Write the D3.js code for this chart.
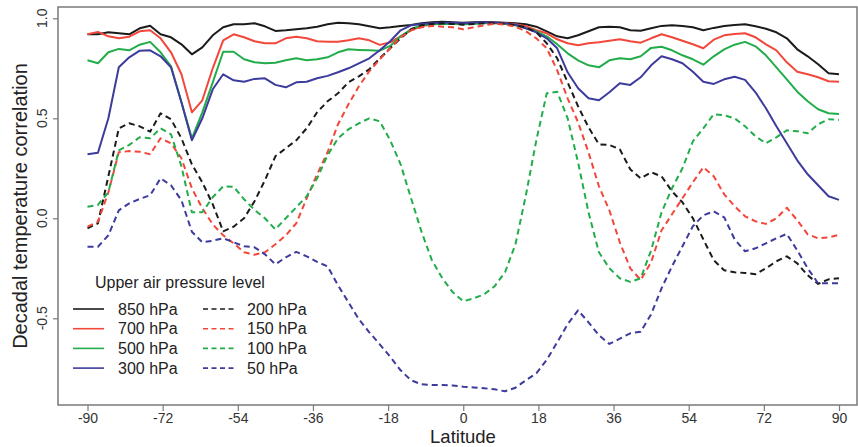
<!DOCTYPE html>
<html>
<head>
<meta charset="utf-8">
<script src="https://cdn.jsdelivr.net/npm/d3@7"></script>
<style>
  body { margin: 0; background: #fff; }
  svg { display: block; font-family: "Liberation Sans", Arial, sans-serif; }
</style>
</head>
<body>
<div id="chart"></div>
<script>
// latitudes (every 2.5 degrees)
var lat = [-90,-87.5,-85,-82.5,-80,-77.5,-75,-72.5,-70,-67.5,
  -65,-62.5,-60,-57.5,-55,-52.5,-50,-47.5,-45,-42.5,
  -40,-37.5,-35,-32.5,-30,-27.5,-25,-22.5,-20,-17.5,
  -15,-12.5,-10,-7.5,-5,-2.5,0,2.5,5,7.5,
  10,12.5,15,17.5,20,22.5,25,27.5,30,32.5,
  35,37.5,40,42.5,45,47.5,50,52.5,55,57.5,
  60,62.5,65,67.5,70,72.5,75,77.5,80,82.5,
  85,87.5,90];

var hpa850 = [0.92,0.92,0.93,0.925,0.92,0.95,0.963,0.92,0.905,0.87,
  0.82,0.855,0.915,0.955,0.97,0.97,0.975,0.96,0.937,0.94,
  0.945,0.95,0.958,0.97,0.978,0.975,0.97,0.96,0.95,0.955,
  0.962,0.967,0.975,0.98,0.983,0.98,0.978,0.98,0.982,0.98,
  0.978,0.975,0.97,0.958,0.935,0.91,0.9,0.915,0.935,0.955,
  0.958,0.955,0.94,0.938,0.95,0.962,0.965,0.962,0.955,0.94,
  0.952,0.962,0.967,0.97,0.96,0.948,0.93,0.9,0.845,0.81,
  0.77,0.725,0.72];

var hpa700 = [0.92,0.932,0.91,0.9,0.908,0.935,0.94,0.9,0.83,0.72,
  0.53,0.59,0.75,0.89,0.92,0.905,0.885,0.875,0.875,0.9,
  0.908,0.9,0.885,0.883,0.883,0.89,0.9,0.89,0.867,0.88,
  0.91,0.94,0.96,0.97,0.975,0.975,0.972,0.975,0.978,0.978,
  0.975,0.97,0.96,0.94,0.925,0.895,0.875,0.865,0.875,0.88,
  0.888,0.895,0.885,0.878,0.9,0.92,0.905,0.888,0.87,0.85,
  0.893,0.915,0.922,0.925,0.905,0.87,0.84,0.78,0.733,0.72,
  0.705,0.685,0.683];

var hpa500 = [0.79,0.775,0.83,0.847,0.84,0.868,0.882,0.83,0.76,0.58,
  0.4,0.53,0.68,0.833,0.833,0.795,0.78,0.775,0.778,0.79,
  0.8,0.79,0.795,0.805,0.83,0.845,0.842,0.84,0.838,0.862,
  0.91,0.945,0.965,0.97,0.972,0.972,0.97,0.972,0.975,0.975,
  0.972,0.965,0.95,0.935,0.91,0.87,0.825,0.79,0.765,0.755,
  0.79,0.8,0.795,0.81,0.852,0.858,0.84,0.815,0.795,0.768,
  0.81,0.845,0.868,0.882,0.86,0.815,0.755,0.695,0.633,0.585,
  0.545,0.525,0.522];

var hpa300 = [0.32,0.328,0.5,0.755,0.805,0.838,0.84,0.81,0.755,0.58,
  0.39,0.5,0.645,0.72,0.69,0.683,0.697,0.7,0.667,0.655,
  0.68,0.683,0.7,0.712,0.73,0.75,0.775,0.8,0.84,0.885,
  0.94,0.965,0.972,0.975,0.978,0.978,0.975,0.978,0.98,0.978,
  0.975,0.968,0.95,0.93,0.9,0.85,0.73,0.65,0.6,0.59,
  0.63,0.675,0.667,0.705,0.765,0.81,0.795,0.775,0.733,0.683,
  0.672,0.695,0.708,0.692,0.63,0.55,0.46,0.375,0.29,0.22,
  0.165,0.11,0.092];

var hpa200 = [-0.05,-0.025,0.21,0.45,0.475,0.46,0.433,0.525,0.495,0.4,
  0.27,0.18,0.07,-0.065,-0.042,0.0,0.085,0.19,0.31,0.35,
  0.39,0.45,0.53,0.585,0.625,0.68,0.71,0.745,0.8,0.85,
  0.9,0.945,0.965,0.972,0.975,0.972,0.968,0.972,0.975,0.975,
  0.972,0.965,0.955,0.93,0.875,0.8,0.68,0.56,0.455,0.37,
  0.367,0.345,0.245,0.2,0.23,0.21,0.135,0.08,0.0,-0.105,
  -0.21,-0.26,-0.27,-0.273,-0.28,-0.25,-0.215,-0.19,-0.225,-0.285,
  -0.328,-0.305,-0.3];

var hpa150 = [-0.042,-0.017,0.13,0.33,0.336,0.333,0.32,0.4,0.375,0.3,
  0.15,0.05,-0.03,-0.085,-0.125,-0.17,-0.182,-0.17,-0.13,-0.085,
  -0.025,0.1,0.22,0.33,0.47,0.57,0.66,0.735,0.795,0.85,
  0.905,0.94,0.955,0.962,0.958,0.955,0.945,0.955,0.965,0.972,
  0.968,0.958,0.935,0.9,0.85,0.74,0.6,0.48,0.33,0.16,
  0.04,-0.12,-0.25,-0.308,-0.22,-0.06,0.02,0.1,0.18,0.255,
  0.21,0.12,0.06,0.01,-0.015,-0.028,0.0,0.053,-0.01,-0.08,
  -0.1,-0.095,-0.083];

var hpa100 = [0.058,0.067,0.13,0.34,0.367,0.405,0.4,0.45,0.42,0.26,
  0.03,0.03,0.105,0.16,0.158,0.095,0.042,0.0,-0.055,0.0,
  0.055,0.11,0.2,0.315,0.4,0.445,0.475,0.5,0.485,0.39,
  0.27,0.1,-0.067,-0.21,-0.3,-0.37,-0.415,-0.4,-0.38,-0.34,
  -0.27,-0.13,0.115,0.39,0.625,0.633,0.5,0.28,0.03,-0.17,
  -0.25,-0.3,-0.318,-0.3,-0.16,0.03,0.15,0.25,0.385,0.45,
  0.52,0.515,0.5,0.46,0.41,0.375,0.405,0.44,0.435,0.425,
  0.47,0.495,0.492];

var hpa50 = [-0.142,-0.142,-0.085,0.04,0.075,0.097,0.115,0.2,0.165,0.09,
  -0.067,-0.12,-0.112,-0.1,-0.12,-0.14,-0.145,-0.18,-0.23,-0.195,
  -0.168,-0.19,-0.218,-0.24,-0.335,-0.42,-0.505,-0.57,-0.63,-0.692,
  -0.76,-0.81,-0.83,-0.833,-0.833,-0.836,-0.842,-0.846,-0.85,-0.855,
  -0.865,-0.847,-0.81,-0.775,-0.708,-0.62,-0.53,-0.46,-0.52,-0.585,
  -0.628,-0.602,-0.575,-0.567,-0.48,-0.35,-0.24,-0.14,-0.04,0.015,
  0.035,0.005,-0.105,-0.165,-0.15,-0.125,-0.1,-0.078,-0.16,-0.25,
  -0.325,-0.325,-0.325];

var xTicks = [-90,-72,-54,-36,-18,0,18,36,54,72,90];
var xTickLabels = ["-90","-72","-54","-36","-18","0","18","36","54","72","90"];
var yTicks = [-0.5,0,0.5,1];
var yTickLabels = ["-0.5","0.0","0.5","1.0"];

var seriesNames = ["850 hPa","700 hPa","500 hPa","300 hPa","200 hPa","150 hPa","100 hPa","50 hPa"];
var seriesValues = [hpa850,hpa700,hpa500,hpa300,hpa200,hpa150,hpa100,hpa50];
var colors = ["#1b1b1b","#f2473a","#22ad4a","#3d3b9c","#1b1b1b","#f2473a","#22ad4a","#3d3b9c"];
var dashed = [false,false,false,false,true,true,true,true];

var w = 858, h = 447;
var box = {left: 58, top: 7, right: 857, bottom: 405};

var svg = d3.select("#chart").append("svg")
    .attr("width", w)
    .attr("height", h);

var x = d3.scaleLinear().domain([-90, 90]).range([87.5, 839]);
var y = d3.scaleLinear().domain([-0.5, 1]).range([318.3, 18.3]);

// one line per pressure level
var line = d3.line()
    .x(function(d, i) { return x(lat[i]); })
    .y(function(d) { return y(d); });

seriesValues.forEach(function(vals, k) {
    svg.append("path")
        .datum(vals)
        .attr("d", line)
        .attr("fill", "none")
        .attr("stroke", colors[k])
        .attr("stroke-width", 2)
        .attr("stroke-linejoin", "round")
        .attr("stroke-dasharray", dashed[k] ? "6,4" : null);
});

// plot box
svg.append("rect")
    .attr("x", box.left)
    .attr("y", box.top)
    .attr("width", box.right - box.left)
    .attr("height", box.bottom - box.top)
    .attr("fill", "none")
    .attr("stroke", "#7a7a7a")
    .attr("stroke-width", 1.5);

// x axis
var xAxis = d3.axisBottom(x)
    .tickValues(xTicks)
    .tickSize(6)
    .tickPadding(2)
    .tickFormat(function(d, i) { return xTickLabels[i]; });

var gx = svg.append("g")
    .attr("transform", "translate(0," + box.bottom + ")")
    .call(xAxis);
gx.select(".domain").remove();
gx.selectAll("line").attr("stroke", "#7a7a7a").attr("stroke-width", 1.2);
gx.selectAll("text")
    .style("font-size", "14px")
    .style("font-family", "Liberation Sans, Arial, sans-serif")
    .attr("fill", "#333");

// y axis ticks
var gy = svg.append("g")
    .attr("transform", "translate(" + box.left + ",0)")
    .call(d3.axisLeft(y).tickValues(yTicks).tickSize(5).tickFormat(""));
gy.select(".domain").remove();
gy.selectAll("line").attr("stroke", "#7a7a7a").attr("stroke-width", 1.2);

// rotated y tick labels
svg.selectAll(".ylab")
    .data(yTicks)
    .enter()
    .append("text")
    .attr("class", "ylab")
    .attr("transform", function(d) { return "translate(42," + y(d) + ") rotate(-90)"; })
    .attr("text-anchor", "middle")
    .attr("dominant-baseline", "central")
    .style("font-size", "14px")
    .attr("fill", "#333")
    .text(function(d, i) { return yTickLabels[i]; });

// axis titles
svg.append("text")
    .attr("x", 463)
    .attr("y", 443)
    .attr("text-anchor", "middle")
    .style("font-size", "18.5px")
    .attr("fill", "#222")
    .text("Latitude");

svg.append("text")
    .attr("transform", "translate(20,206) rotate(-90)")
    .attr("text-anchor", "middle")
    .attr("dominant-baseline", "central")
    .style("font-size", "20px")
    .attr("fill", "#222")
    .text("Decadal temperature correlation");

// legend
var legend = svg.append("g");
legend.append("text")
    .attr("x", 95)
    .attr("y", 282)
    .attr("dominant-baseline", "central")
    .style("font-size", "16px")
    .attr("fill", "#222")
    .text("Upper air pressure level");

seriesNames.forEach(function(name, k) {
    var col = k < 4 ? 0 : 1;
    var row = k % 4;
    var ly = 309 + row * 19.7;
    var lx = col === 0 ? 73 : 203;
    legend.append("line")
        .attr("x1", lx)
        .attr("x2", lx + 31)
        .attr("y1", ly)
        .attr("y2", ly)
        .attr("stroke", colors[k])
        .attr("stroke-width", 1.6)
        .attr("stroke-dasharray", dashed[k] ? "5,3.5" : null);
    legend.append("text")
        .attr("x", col === 0 ? 118 : 247)
        .attr("y", ly)
        .attr("dominant-baseline", "central")
        .style("font-size", "16px")
        .attr("fill", "#222")
        .text(name);
});
</script>
</body>
</html>
